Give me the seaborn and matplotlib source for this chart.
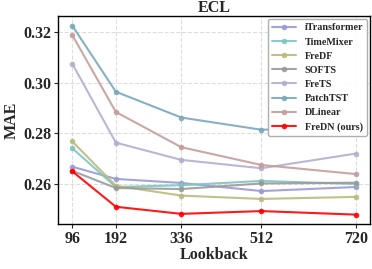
import matplotlib
matplotlib.use("Agg")
import matplotlib.pyplot as plt
import seaborn as sns
import pandas as pd

lookback = [96, 192, 336, 512, 720]
models = ["iTransformer", "TimeMixer", "FreDF", "SOFTS", "FreTS", "PatchTST", "DLinear", "FreDN (ours)"]
itransformer = [0.2668, 0.2620, 0.2604, 0.2572, 0.2588]
timemixer = [0.2741, 0.2588, 0.2595, 0.2612, 0.2600]
fredf = [0.2768, 0.2593, 0.2554, 0.2541, 0.2549]
softs = [0.2652, 0.2584, 0.2580, 0.2602, 0.2605]
frets = [0.3075, 0.2763, 0.2695, 0.2662, 0.2720]
patchtst = [0.3225, 0.2964, 0.2862, 0.2814, 0.2825]
dlinear = [0.3188, 0.2884, 0.2745, 0.2675, 0.2639]
fredn = [0.2650, 0.2510, 0.2482, 0.2493, 0.2479]
colors = ["#9a9ad8", "#7ec5c1", "#baba7c", "#9a9a9a", "#b3aed0", "#7aa8bd", "#c59d9b", "#ff0000"]

series = [itransformer, timemixer, fredf, softs, frets, patchtst, dlinear, fredn]
rows = []
for m, vals in zip(models, series):
    for x, v in zip(lookback, vals):
        rows.append({"Lookback": x, "MAE": v, "Model": m})
df = pd.DataFrame(rows)

sns.set_style("ticks")
plt.rcParams["font.family"] = ["Liberation Serif", "DejaVu Serif"]
plt.rcParams["font.weight"] = "bold"

fig = plt.figure(figsize=(3.72, 2.69), dpi=100)
ax = fig.add_axes([0.156, 0.167, 0.839, 0.773])
sns.lineplot(data=df, x="Lookback", y="MAE", hue="Model", hue_order=models,
             palette=colors, marker="o", markersize=4, markeredgewidth=0,
             linewidth=1.5, alpha=0.9, ax=ax)

fs = 11.5
ax.set_xticks(lookback)
ax.set_xticklabels([str(v) for v in lookback], fontsize=fs, fontweight="bold")
ax.set_yticks([0.26, 0.28, 0.30, 0.32])
ax.set_yticklabels(["0.26", "0.28", "0.30", "0.32"], fontsize=fs, fontweight="bold")
ax.set_xlabel("Lookback", fontsize=fs, fontweight="bold", labelpad=0)
ax.set_ylabel("MAE", fontsize=fs, fontweight="bold", labelpad=2)
ax.set_title("ECL", fontsize=fs, fontweight="bold", pad=1)
ax.grid(True, linestyle="--", color="#dddddd", linewidth=0.8)
for s in ax.spines.values():
    s.set_visible(True)
    s.set_color("black")
    s.set_linewidth(1.0)
ax.tick_params(axis="both", direction="out", length=3, width=0.8, pad=2)

leg = ax.legend(loc="upper right", fontsize=7.3, frameon=True, framealpha=0.95,
                edgecolor="#aaaaaa", handlelength=2.4, borderpad=0.4,
                labelspacing=0.5, handletextpad=0.8, borderaxespad=0.3)
for t in leg.get_texts():
    t.set_fontweight("bold")

fig.savefig("out.png", dpi=100)
